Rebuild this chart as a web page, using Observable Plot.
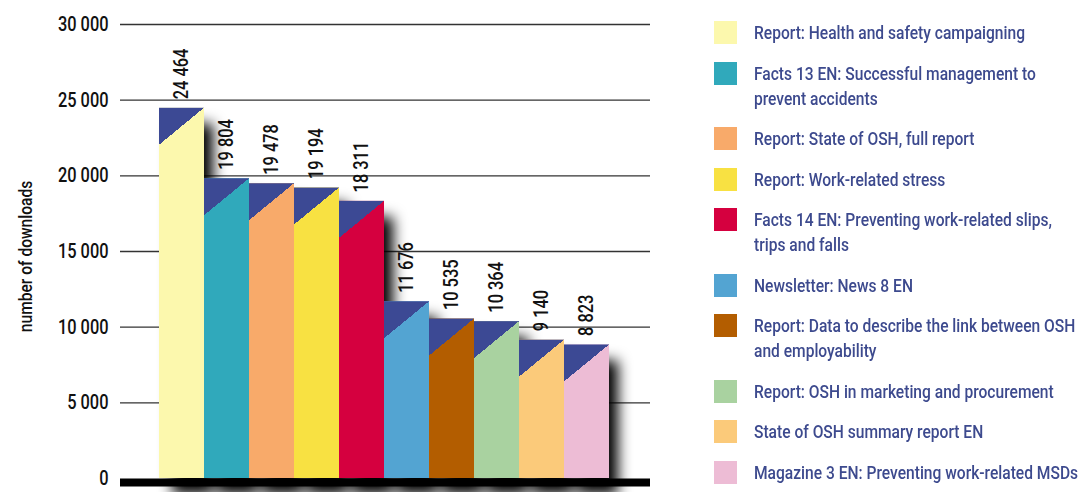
<!DOCTYPE html>
<html><head><meta charset="utf-8">
<script src="https://cdn.jsdelivr.net/npm/d3@7"></script>
<script src="https://cdn.jsdelivr.net/npm/@observablehq/plot@0.6"></script>
<style>
body{margin:0;background:#fff;width:1082px;height:492px;overflow:hidden;position:relative;font-family:Roboto,"Liberation Sans",Arial,sans-serif;}
#chart{position:absolute;left:0;top:0}
#legend{position:absolute;left:714px;top:20px;display:flex;flex-direction:column;gap:15.5px}
.item{display:flex;align-items:flex-start}
.sw{width:23px;height:23px;flex:none;margin-right:17px;margin-top:1px}
.lab{font-size:19px;font-weight:500;line-height:25px;color:#3d4a8e;white-space:pre;transform:scaleX(0.82);transform-origin:left top}
</style></head><body>
<div id="chart"></div>
<div id="legend"></div>
<script>
const names = [
  "Report: Health and safety campaigning",
  "Facts 13 EN: Successful management to\nprevent accidents",
  "Report: State of OSH, full report",
  "Report: Work-related stress",
  "Facts 14 EN: Preventing work-related slips,\ntrips and falls",
  "Newsletter: News 8 EN",
  "Report: Data to describe the link between OSH\nand employability",
  "Report: OSH in marketing and procurement",
  "State of OSH summary report EN",
  "Magazine 3 EN: Preventing work-related MSDs"
];
const values = [24464, 19804, 19478, 19194, 18311, 11676, 10535, 10364, 9140, 8823];
const colors = ["#fcf8ad", "#30a9bb", "#f8aa6a", "#f8e142", "#d5003f", "#53a4d2", "#b35d00", "#a9d2a0", "#fbca7a", "#edbcd5"];
const yTicks = [0, 5000, 10000, 15000, 20000, 25000, 30000];
const yLabel = "number of downloads";

const data = names.map((name, i) => ({name, value: values[i]}));
const fmt = v => d3.format(",")(v).replace(/,/g, " ");
const SHADOW = "#010101";

const chart = Plot.plot({
  width: 700, height: 492,
  marginLeft: 120, marginRight: 50, marginTop: 24, marginBottom: 14,
  style: {fontFamily: 'Roboto,"Liberation Sans",Arial,sans-serif', fontWeight: 500, background: "transparent", overflow: "visible"},
  x: {domain: names, range: [157, 611], padding: 0, axis: null},
  y: {domain: [0, 30000], axis: null},
  color: {domain: names, range: colors},
  marks: [
    Plot.ruleY(yTicks.filter(d => d > 0), {y: d => d, stroke: "#333", strokeWidth: 1.3}),
    Plot.barY(data, {x: "name", y: "value", fill: SHADOW, fillOpacity: 1, dx: 9, dy: 16, insetLeft: 4}),
    Plot.barY(data, {x: "name", y: "value", fill: "name"}),
    Plot.barY(data, {x: "name", y1: "value", y2: "value", insetBottom: -37, fill: "url(#cap)"}),
    Plot.text(data, {x: "name", y: "value", text: d => fmt(d.value), rotate: -90, textAnchor: "start", dy: -9, fontSize: 20, fill: "#111"}),
    Plot.ruleY([0], {stroke: "#000", strokeWidth: 8, dy: 4}),
    Plot.text(yTicks, {y: d => d, text: d => fmt(d), frameAnchor: "left", textAnchor: "end", dx: -12, fontSize: 20, fill: "#111"}),
    Plot.text([yLabel], {text: d => d, frameAnchor: "left", textAnchor: "middle", dx: -95, dy: 5, rotate: -90, fontSize: 19, fill: "#111"})
  ]
});
document.getElementById("chart").appendChild(chart);

// defs: triangle cap gradient and shadow blur
const svg = d3.select(chart);
const defs = svg.insert("defs", ":first-child");
const g = defs.append("linearGradient").attr("id", "cap").attr("x1", 0).attr("y1", 0).attr("x2", 1).attr("y2", 1);
g.append("stop").attr("offset", 0.5).attr("stop-color", "#3c4994");
g.append("stop").attr("offset", 0.5).attr("stop-color", "#3c4994").attr("stop-opacity", 0);
defs.append("filter").attr("id", "blur").attr("x", "-50%").attr("y", "-50%").attr("width", "200%").attr("height", "200%")
  .append("feGaussianBlur").attr("stdDeviation", 7);
svg.selectAll("g").filter(function() { return this.getAttribute("fill") === SHADOW; }).attr("filter", "url(#blur)");

// condensed look: horizontal squeeze of each text along its direction
svg.selectAll("text").each(function() {
  const t = this.getAttribute("transform");
  if (t) this.setAttribute("transform", t + " scale(0.82,1)");
});

const legend = d3.select("#legend");
names.forEach((n, i) => {
  const it = legend.append("div").attr("class", "item");
  it.append("div").attr("class", "sw").style("background", colors[i]);
  it.append("div").attr("class", "lab").text(n);
});
</script>
</body></html>
